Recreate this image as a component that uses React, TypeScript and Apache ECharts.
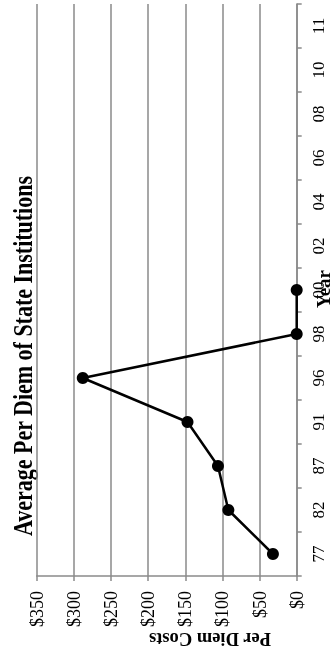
import React, { useEffect, useRef } from "react";
import * as echarts from "echarts";

const years = ["77", "82", "87", "91", "96", "98", "00", "02", "04", "06", "08", "10", "11"];
const perDiem: (number | null)[] = [32, 92, 106, 147, 288, 0, 0, null, null, null, null, null, null];
const costTicks = [0, 50, 100, 150, 200, 250, 300, 350];
const titleText = "Average Per Diem of State Institutions";
const costAxisName = "Per Diem Costs";
const yearAxisName = "Year";

export default function App() {
  const ref = useRef<HTMLDivElement>(null);
  useEffect(() => {
    if (!ref.current) return;
    const chart = echarts.init(ref.current, null, { renderer: "svg" });
    const serif = '"Liberation Serif", "Times New Roman", serif';
    const gray = "#8a8a8a";
    chart.setOption({
      animation: false,
      grid: { left: 36.7, right: 36.3, top: 4, bottom: 79, containLabel: false, outerBoundsMode: "none" },
      xAxis: {
        type: "value",
        inverse: true,
        min: costTicks[0],
        max: costTicks[costTicks.length - 1],
        interval: costTicks[1] - costTicks[0],
        axisLine: { show: true, lineStyle: { color: gray, width: 1.5 } },
        axisTick: { show: true, length: 5, lineStyle: { color: gray, width: 1.5 } },
        axisLabel: {
          rotate: 90,
          margin: 15,
          fontSize: 18,
          fontFamily: serif,
          color: "#000",
          formatter: (v: number) => "$" + v,
        },
        splitLine: { show: true, lineStyle: { color: gray, width: 1.5 } },
      },
      yAxis: {
        type: "category",
        position: "right",
        data: years,
        boundaryGap: true,
        axisLine: { show: true, onZero: false, lineStyle: { color: gray, width: 1.5 } },
        axisTick: { show: true, length: 5, interval: 0, alignWithLabel: false, lineStyle: { color: gray, width: 1.5 } },
        axisLabel: {
          rotate: 90,
          margin: 13,
          interval: 0,
          fontSize: 17,
          fontFamily: serif,
          color: "#000",
        },
        splitLine: { show: false },
      },
      series: [
        {
          type: "line",
          data: perDiem,
          connectNulls: false,
          symbol: "circle",
          symbolSize: 12,
          itemStyle: { color: "#000" },
          lineStyle: { color: "#000", width: 2.5 },
        },
      ],
      graphic: [
        {
          type: "text",
          x: 23,
          y: 356,
          rotation: Math.PI / 2,
          scaleY: 1.22,
          style: {
            text: titleText,
            fontSize: 22,
            fontWeight: "bold",
            fontFamily: serif,
            fill: "#000",
            textAlign: "center",
            textVerticalAlign: "middle",
            align: "center",
            verticalAlign: "middle",
          },
        },
        {
          type: "text",
          x: 210,
          y: 639,
          rotation: Math.PI,
          style: {
            text: costAxisName,
            fontSize: 18.5,
            fontWeight: "bold",
            fontFamily: serif,
            fill: "#000",
            textAlign: "center",
            textVerticalAlign: "middle",
            align: "center",
            verticalAlign: "middle",
          },
        },
        {
          type: "text",
          x: 333,
          y: 289,
          rotation: Math.PI / 2,
          style: {
            text: yearAxisName,
            fontSize: 19,
            fontWeight: "bold",
            fontFamily: serif,
            fill: "#000",
            textAlign: "center",
            textVerticalAlign: "bottom",
            align: "center",
            verticalAlign: "bottom",
          },
        },
      ],
    });
    return () => chart.dispose();
  }, []);
  return <div ref={ref} style={{ position: "fixed", left: 0, top: 0, width: 333, height: 655 }} />;
}
